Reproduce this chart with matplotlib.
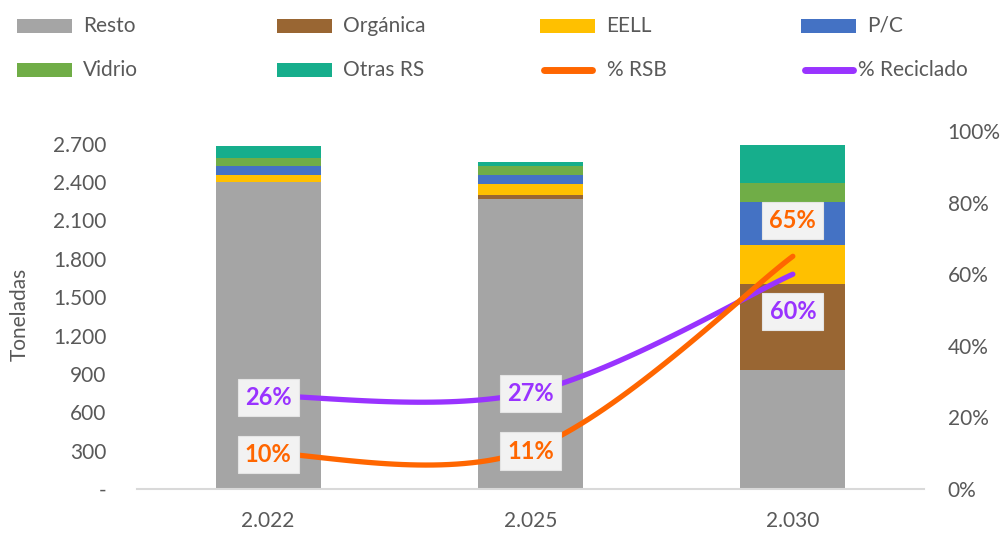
import numpy as np
import matplotlib
matplotlib.use("Agg")
import matplotlib.pyplot as plt
from matplotlib.patches import Rectangle
from matplotlib.lines import Line2D
from matplotlib.ticker import FuncFormatter, FixedLocator

plt.rcParams['font.family'] = ['Lato', 'DejaVu Sans']

years = ["2.022", "2.025", "2.030"]
resto = [2404, 2266, 934]
organica = [0, 34, 670]
eell = [55, 84, 304]
pc = [68, 75, 338]
vidrio = [63, 68, 149]
otras = [89, 31, 298]
pct_rsb = [0.10, 0.11, 0.65]
pct_recic = [0.26, 0.27, 0.60]

series = [("Resto", resto, "#A5A5A5"),
          ("Orgánica", organica, "#996633"),
          ("EELL", eell, "#FFC000"),
          ("P/C", pc, "#4472C4"),
          ("Vidrio", vidrio, "#70AD47"),
          ("Otras RS", otras, "#16AE8C")]
c_rsb = "#FF6600"
c_rec = "#9933FF"
tick_c = "#595959"
FS = 15

fig = plt.figure(figsize=(10.08, 5.34), dpi=100)
ax = fig.add_axes([137/1008, 1-489/534, (924-137)/1008, (489-131)/534])
x = np.arange(len(years))
bottom = np.zeros(len(years))
for name, vals, col in series:
    ax.bar(x, vals, width=0.4, bottom=bottom, color=col, edgecolor='none', zorder=2)
    bottom += np.array(vals)

ax.set_xlim(-0.5, len(years)-0.5)
ax.set_ylim(0, 2800)
ax.yaxis.set_major_locator(FixedLocator(np.arange(0, 2701, 300)))
def fmt_thousands(v, pos):
    if v == 0:
        return "-"
    return f"{int(v):,}".replace(",", ".")
ax.yaxis.set_major_formatter(FuncFormatter(fmt_thousands))
ax.set_xticks(x)
ax.set_xticklabels(years)
for s in ["top", "right", "left"]:
    ax.spines[s].set_visible(False)
ax.spines["bottom"].set_color("#D9D9D9")
ax.spines["bottom"].set_linewidth(1.5)
ax.tick_params(axis='y', length=0, pad=22, labelsize=FS, labelcolor=tick_c)
ax.tick_params(axis='x', length=0, pad=16, labelsize=FS, labelcolor=tick_c)
ax.set_ylabel("Toneladas", fontsize=FS, color=tick_c)
ax.yaxis.set_label_coords((30-137)/787, (489-314)/358)

ax2 = ax.twinx()
ax2.set_ylim(0, 1.0)
ax2.yaxis.set_major_locator(FixedLocator(np.arange(0, 1.01, 0.2)))
ax2.yaxis.set_major_formatter(FuncFormatter(lambda v, p: f"{v*100:.0f}%"))
for s in ["top", "right", "left", "bottom"]:
    ax2.spines[s].set_visible(False)
ax2.tick_params(axis='y', length=0, pad=17, labelsize=FS, labelcolor=tick_c)

def smooth(xs, ys, n=40):
    xs = np.asarray(xs, float); ys = np.asarray(ys, float)
    P = np.column_stack([xs, ys])
    out = []
    for i in range(len(P)-1):
        p0 = P[i-1] if i > 0 else P[i]
        p1 = P[i]; p2 = P[i+1]
        p3 = P[i+2] if i+2 < len(P) else P[i+1]
        c1 = p1 + (p2 - p0) / 6
        c2 = p2 - (p3 - p1) / 6
        t = np.linspace(0, 1, n)[:, None]
        seg = (1-t)**3*p1 + 3*(1-t)**2*t*c1 + 3*(1-t)*t**2*c2 + t**3*p2
        out.append(seg if i == 0 else seg[1:])
    out = np.vstack(out)
    return out[:, 0], out[:, 1]

for vals, col in [(pct_recic, c_rec), (pct_rsb, c_rsb)]:
    sx, sy = smooth(x, vals)
    ax2.plot(sx, sy, color=col, lw=3.8, solid_capstyle='round', zorder=3)

def label(xi, v, col, dy):
    ax2.annotate(f"{v*100:.0f}%", (xi, v), xytext=(0, dy), textcoords='offset points',
                 ha='center', va='center', fontsize=17, fontweight='bold', color=col,
                 bbox=dict(boxstyle='square,pad=0.3', fc='#F2F2F2', ec='#E4E4E4', lw=0.8),
                 zorder=5)

for i in range(len(years)):
    if i < len(years)-1:
        label(x[i], pct_rsb[i], c_rsb, -1)
        label(x[i], pct_recic[i], c_rec, -1)
    else:
        label(x[i], pct_rsb[i], c_rsb, 26)
        label(x[i], pct_recic[i], c_rec, -27)

# legend (manual)
W, H = 1008, 534
items = [("Resto", "#A5A5A5", "patch"), ("Orgánica", "#996633", "patch"),
         ("EELL", "#FFC000", "patch"), ("P/C", "#4472C4", "patch"),
         ("Vidrio", "#70AD47", "patch"), ("Otras RS", "#16AE8C", "patch"),
         ("% RSB", c_rsb, "line"), ("% Reciclado", c_rec, "line")]
cols_x = [17, 277, 540, 801]
rows_y = [26, 70]
for k, (name, col, kind) in enumerate(items):
    r, c = divmod(k, 4)
    x0 = cols_x[c]; yc = rows_y[r]
    if kind == "patch":
        fig.patches.append(Rectangle((x0/W, 1-(yc+7)/H), 55/W, 14/H,
                                     transform=fig.transFigure, fc=col, ec='none'))
        tx = x0 + 66
    else:
        fig.lines.append(Line2D([(x0+4)/W, (x0+52)/W], [1-yc/H, 1-yc/H],
                                transform=fig.transFigure, color=col, lw=5,
                                solid_capstyle='round'))
        tx = x0 + 67 if name == "% RSB" else x0 + 57
    fig.text(tx/W, 1-yc/H, name, ha='left', va='center', fontsize=FS, color=tick_c)

fig.savefig("out.png", dpi=100)
